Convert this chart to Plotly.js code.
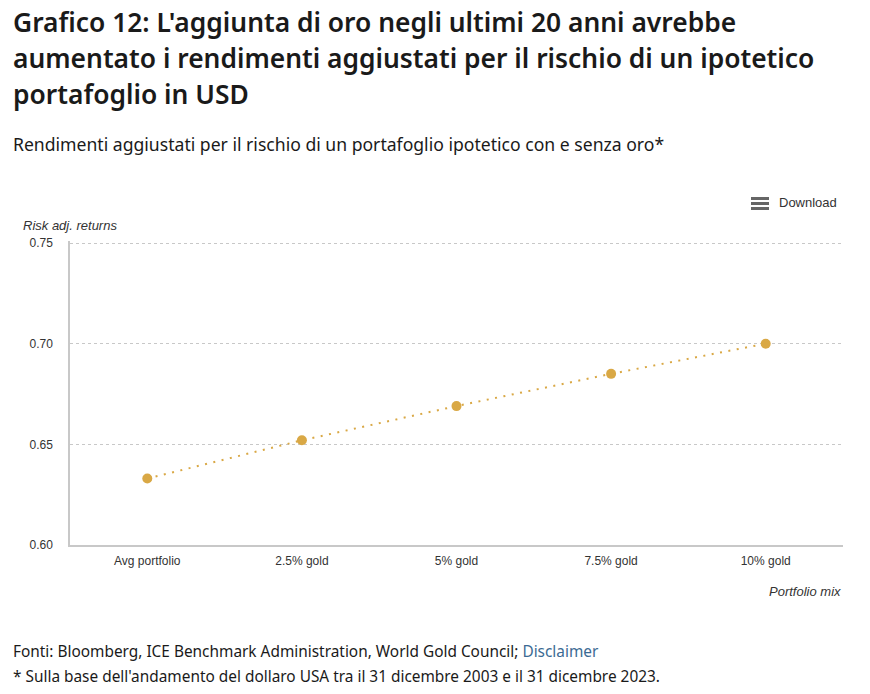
<!DOCTYPE html>
<html>
<head>
<meta charset="utf-8">
<script src="https://cdn.plot.ly/plotly-3.0.1.min.js"></script>
<style>
  body { margin: 0; background: #fff; font-family: "Noto Sans", "Open Sans", sans-serif; color: #1a1a1a; }
  #wrap { position: relative; width: 870px; height: 694px; overflow: hidden; }
  h1 { position: absolute; left: 13px; top: 4px; margin: 0; font-size: 26.4px; font-weight: 600; line-height: 36px; }
  .sub { position: absolute; left: 13px; top: 132px; font-size: 17.6px; }
  .dl { position: absolute; z-index: 5; left: 751px; top: 195px; font-family: "Liberation Sans", Arial, sans-serif; font-size: 13px; color: #333; }
  .dl span.ic { display: inline-block; width: 18px; height: 3px; background: #666; box-shadow: 0 5px 0 #666, 0 10px 0 #666; vertical-align: top; margin-top: 2px; margin-right: 10px; }
  #plot { position: absolute; left: 0; top: 190px; width: 870px; height: 420px; }
  .foot { position: absolute; left: 13px; font-size: 15.4px; }
  .foot a { color: #3b6a93; text-decoration: none; }
</style>
</head>
<body>
<div id="wrap">
  <h1>Grafico 12: L'aggiunta di oro negli ultimi 20 anni avrebbe<br>aumentato i rendimenti aggiustati per il rischio di un ipotetico<br>portafoglio in USD</h1>
  <div class="sub">Rendimenti aggiustati per il rischio di un portafoglio ipotetico con e senza oro*</div>
  <div id="plot"></div>
  <div class="dl"><span class="ic"></span>Download</div>
  <div class="foot" style="top:641px">Fonti: Bloomberg, ICE Benchmark Administration, World Gold Council; <a href="#">Disclaimer</a></div>
  <div class="foot" style="top:666px">* Sulla base dell'andamento del dollaro USA tra il 31 dicembre 2003 e il 31 dicembre 2023.</div>
</div>
<script>
const mixes = ['Avg portfolio', '2.5% gold', '5% gold', '7.5% gold', '10% gold'];
const riskAdjReturns = [0.633, 0.652, 0.669, 0.685, 0.700];
const yTicks = [0.60, 0.65, 0.70, 0.75];

const gold = '#d9a845';
const tickFont = { family: '"Liberation Sans", Arial, sans-serif', size: 12, color: '#333' };
const titleFont = { family: '"Liberation Sans", Arial, sans-serif', size: 13, color: '#333' };

let trace = {
    x: mixes,
    y: riskAdjReturns,
    type: 'scatter',
    mode: 'lines+markers',
    line: { color: gold, width: 2, dash: '2px,6.5px' },
    marker: { color: gold, size: 10 },
    hoverinfo: 'x+y'
};

let layout = {
    width: 870,
    height: 420,
    margin: { l: 70, r: 27, t: 51, b: 65 },
    paper_bgcolor: '#fff',
    plot_bgcolor: '#fff',
    showlegend: false,
    xaxis: {
        type: 'category',
        range: [-0.5, 4.5],
        showgrid: false,
        showline: true,
        linecolor: '#c8c8c8',
        linewidth: 1.5,
        ticks: '',
        ticklabelstandoff: 4,
        tickfont: tickFont,
        zeroline: false,
        fixedrange: true
    },
    yaxis: {
        range: [0.60, 0.751],
        tickvals: yTicks,
        ticktext: yTicks.map(v => v.toFixed(2)),
        showgrid: true,
        gridcolor: '#c8c8c8',
        griddash: 'dot',
        gridwidth: 1,
        showline: true,
        linecolor: '#c8c8c8',
        linewidth: 1.5,
        ticks: '',
        ticklabelstandoff: 13,
        tickfont: tickFont,
        zeroline: false,
        fixedrange: true
    },
    annotations: [
        {
            text: '<i>Risk adj. returns</i>', xref: 'paper', yref: 'paper',
            x: -0.064, y: 1, yshift: 6, xanchor: 'left', yanchor: 'bottom',
            showarrow: false, font: titleFont
        },
        {
            text: '<i>Portfolio mix</i>', xref: 'paper', yref: 'paper',
            x: 1, y: 0, yshift: -37, xanchor: 'right', yanchor: 'top',
            showarrow: false, font: titleFont
        }
    ]
};

Plotly.newPlot('plot', [trace], layout, { displayModeBar: false });
</script>
</body>
</html>
